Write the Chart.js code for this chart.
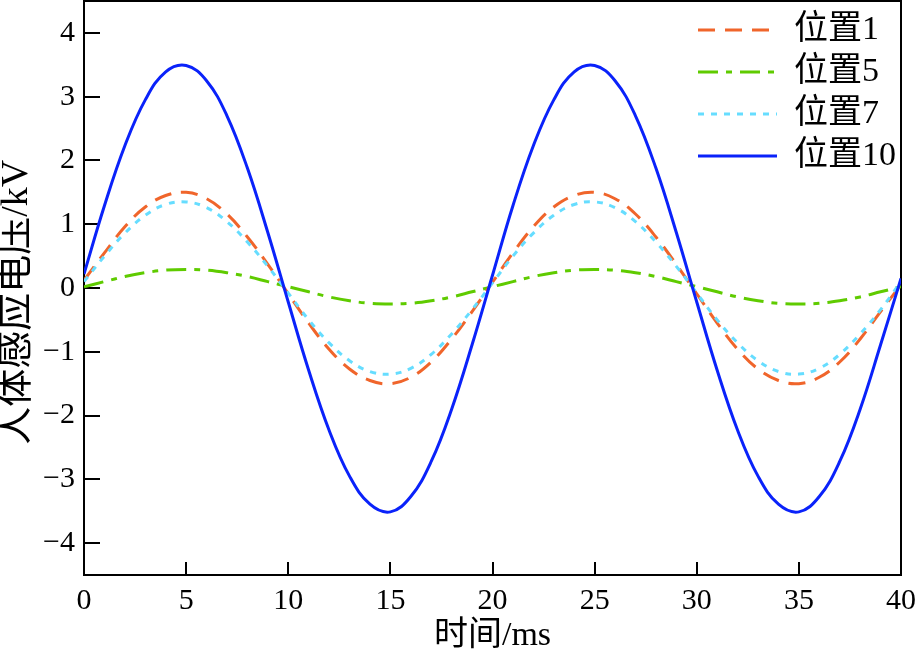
<!DOCTYPE html>
<html>
<head>
<meta charset="utf-8">
<script src="https://cdn.jsdelivr.net/npm/chart.js@4"></script>
<style>
  html, body { margin: 0; padding: 0; background: #ffffff; }
  #c { display: block; }
</style>
</head>
<body>
<canvas id="c" width="919" height="657"></canvas>
<script>
// ---- data ----
const timeMs = [0,1,2,3,4,5,6,7,8,9,10,11,12,13,14,15,16,17,18,19,20,21,22,23,24,25,26,27,28,29,30,31,32,33,34,35,36,37,38,39,40];

const pos1 = [0.12,0.55,0.96,1.27,1.45,1.50,1.40,1.16,0.80,0.37,-0.09,-0.55,-0.96,-1.27,-1.45,-1.50,-1.40,-1.16,-0.80,-0.37,0.09,
              0.55,0.96,1.27,1.45,1.50,1.40,1.16,0.80,0.37,-0.09,-0.55,-0.96,-1.27,-1.45,-1.50,-1.40,-1.16,-0.80,-0.37,0.05];
const pos5 = [0.02,0.10,0.18,0.24,0.28,0.29,0.28,0.24,0.18,0.10,0.02,-0.06,-0.14,-0.20,-0.24,-0.25,-0.24,-0.20,-0.14,-0.06,0.02,
              0.10,0.18,0.24,0.28,0.29,0.28,0.24,0.18,0.10,0.02,-0.06,-0.14,-0.20,-0.24,-0.25,-0.24,-0.20,-0.14,-0.06,0.02];
const pos7 = [0.10,0.50,0.86,1.14,1.31,1.35,1.26,1.04,0.72,0.34,-0.08,-0.50,-0.86,-1.14,-1.31,-1.35,-1.26,-1.04,-0.72,-0.34,0.08,
              0.50,0.86,1.14,1.31,1.35,1.26,1.04,0.72,0.34,-0.08,-0.50,-0.86,-1.14,-1.31,-1.35,-1.26,-1.04,-0.72,-0.34,0.10];
const pos10 = [0.22,1.29,2.23,2.95,3.39,3.49,3.25,2.70,1.88,0.87,-0.22,-1.29,-2.23,-2.95,-3.39,-3.51,-3.27,-2.72,-1.90,-0.89,0.20,
               1.29,2.23,2.95,3.39,3.49,3.25,2.70,1.88,0.87,-0.22,-1.29,-2.23,-2.95,-3.39,-3.51,-3.27,-2.72,-1.90,-0.89,0.15];

const seriesNames = ['位置1','位置5','位置7','位置10'];
const xTicks = [0,5,10,15,20,25,30,35,40];
const yTicks = [-4,-3,-2,-1,0,1,2,3,4];
const xTitle = '时间/ms';
const yTitle = '人体感应电压/kV';

// ---- chart ----
const FONT = "'Liberation Serif', 'Noto Sans CJK SC', serif";
const pts = arr => arr.map((v, i) => ({ x: timeMs[i], y: v }));

const legendPlacer = {
  id: 'legendPlacer',
  afterLayout(chart) {
    const lg = chart.legend;
    if (!lg) return;
    const w = lg.width, h = lg.height;
    lg.left = 690; lg.right = lg.left + w;
    lg.top = 5; lg.bottom = lg.top + h;
  }
};

const minusFmt = v => (v < 0 ? '\u2212' + Math.abs(v) : String(v));
const noPad = s => { s.paddingTop = 0; s.paddingBottom = 0; s.paddingLeft = 0; s.paddingRight = 0; };

new Chart(document.getElementById('c'), {
  type: 'line',
  data: {
    datasets: [
      { label: seriesNames[0], data: pts(pos1), borderColor: '#F0652B', borderWidth: 3, borderDash: [17, 10], order: 2 },
      { label: seriesNames[1], data: pts(pos5), borderColor: '#5FCB00', borderWidth: 3, borderDash: [20, 8, 6, 8], order: 3 },
      { label: seriesNames[2], data: pts(pos7), borderColor: '#66DDFF', borderWidth: 3, borderDash: [6, 7], order: 1 },
      { label: seriesNames[3], data: pts(pos10), borderColor: '#0A22FA', borderWidth: 3, order: 0 }
    ].map(d => Object.assign({ pointRadius: 0, fill: false, tension: 0.4, backgroundColor: d.borderColor }, d))
  },
  options: {
    responsive: false,
    animation: false,
    devicePixelRatio: 1,
    layout: { padding: { top: 1, right: 18, bottom: 0, left: 0 } },
    plugins: {
      tooltip: { enabled: false },
      legend: {
        position: 'chartArea',
        align: 'start',
        labels: {
          usePointStyle: true,
          pointStyle: 'line',
          pointStyleWidth: 79,
          boxHeight: 34,
          padding: 8,
          color: '#000',
          font: { family: FONT, size: 34 },
          sort: (a, b) => a.datasetIndex - b.datasetIndex,
          generateLabels: chart => Chart.defaults.plugins.legend.labels.generateLabels(chart).map(l => {
            const ds = chart.data.datasets[l.datasetIndex];
            l.lineDash = ds.borderDash || [];
            l.lineWidth = ds.borderWidth;
            l.strokeStyle = ds.borderColor;
            l.fillStyle = ds.borderColor;
            l.lineCap = 'butt';
            l.pointStyle = 'line';
            return l;
          })
        }
      }
    },
    scales: {
      x: {
        type: 'linear', position: 'bottom', min: 0, max: 40,
        afterBuildTicks: s => { s.ticks = xTicks.map(v => ({ value: v })); },
        afterFit: s => { s.height = 82; noPad(s); },
        border: { display: true, color: '#000', width: 2 },
        grid: { display: true, drawOnChartArea: false, drawTicks: true, tickLength: -13, color: '#000', lineWidth: 2 },
        ticks: { color: '#000', font: { family: FONT, size: 30 }, padding: 21, maxRotation: 0, autoSkip: false },
        title: { display: true, text: xTitle, color: '#000', font: { family: FONT, size: 34, lineHeight: 1.0 }, padding: { top: 0, bottom: 4 } }
      },
      y: {
        type: 'linear', position: 'left', min: -4.5, max: 4.5,
        afterBuildTicks: s => { s.ticks = yTicks.map(v => ({ value: v })); },
        afterFit: s => { s.width = 84; noPad(s); },
        border: { display: true, color: '#000', width: 2 },
        grid: { display: true, drawOnChartArea: false, drawTicks: true, tickLength: -16, color: '#000', lineWidth: 2 },
        ticks: { color: '#000', font: { family: FONT, size: 30 }, padding: 25, callback: v => minusFmt(v), autoSkip: false },
        title: { display: true, text: yTitle + '   ', color: '#000', font: { family: FONT, size: 38, lineHeight: 1.0 }, padding: { top: -2, bottom: 0 } }
      },
      x2: {
        type: 'linear', position: 'top', min: 0, max: 40,
        afterFit: s => { s.height = 0; noPad(s); },
        border: { display: true, color: '#000', width: 2 },
        grid: { display: false },
        ticks: { display: false }
      },
      y2: {
        type: 'linear', position: 'right', min: -4.5, max: 4.5,
        afterFit: s => { s.width = 0; noPad(s); },
        border: { display: true, color: '#000', width: 2 },
        grid: { display: false },
        ticks: { display: false }
      }
    }
  },
  plugins: [legendPlacer]
});
</script>
</body>
</html>
